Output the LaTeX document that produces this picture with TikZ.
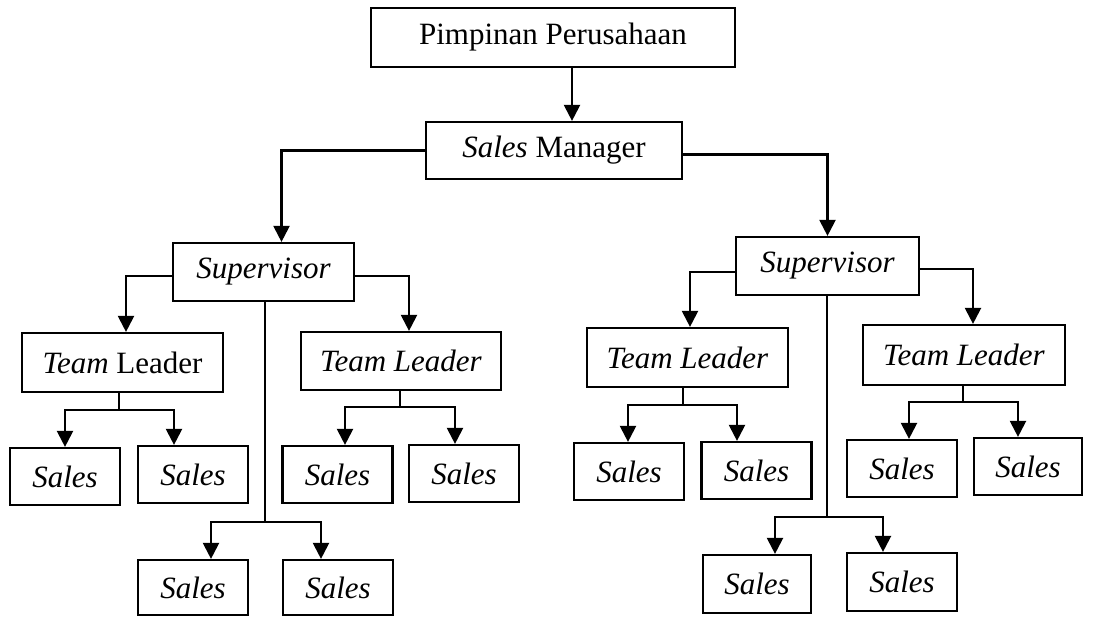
\documentclass[tikz,border=0pt]{standalone}
\usepackage{fontspec}
\setmainfont{Liberation Serif}
\usetikzlibrary{arrows.meta,calc}
\tikzset{
  box/.style={draw, line width=2.2pt, inner sep=0pt, align=center,
    font=\fontsize{31}{36}\selectfont},
  link/.style={line width=2.2pt},
  arr/.style={line width=2.2pt, -{Triangle[width=16pt,length=16pt]}}
}
\begin{document}
\begin{tikzpicture}[x=1pt,y=-1pt]
\useasboundingbox (0,0) rectangle (1119,616);

% boxes
\node[box, minimum width=364pt, minimum height=59pt] (top) at (553,37.5) {Pimpinan Perusahaan};
\node[box, minimum width=256pt, minimum height=57pt] (sm) at (554,150.5) {\textit{Sales} Manager};
\node[box, minimum width=181pt, minimum height=58pt] (supL) at (263.5,272) {\textit{Supervisor}};
\node[box, minimum width=183pt, minimum height=58pt] (supR) at (827.5,266) {\textit{Supervisor}};

\node[box, minimum width=201pt, minimum height=59pt] (tl1) at (122.5,362.5) {\textit{Team} Leader};
\node[box, minimum width=200pt, minimum height=58pt] (tl2) at (401,361) {\textit{Team Leader}};
\node[box, minimum width=201pt, minimum height=59pt] (tl3) at (687.5,357.5) {\textit{Team Leader}};
\node[box, minimum width=202pt, minimum height=60pt] (tl4) at (964,355) {\textit{Team Leader}};

\tikzset{sbox/.style={box, minimum width=110pt, minimum height=57pt}}
\node[sbox] (s1) at (65,476.5) {\textit{Sales}};
\node[sbox] (s2) at (193,474.5) {\textit{Sales}};
\node[sbox] (s3) at (337.5,474.5) {\textit{Sales}};
\node[sbox] (s4) at (464,473.5) {\textit{Sales}};
\node[sbox, minimum height=55pt] (s5) at (193,587.5) {\textit{Sales}};
\node[sbox, minimum height=55pt] (s6) at (338,587.5) {\textit{Sales}};
\node[sbox] (s7) at (629,471.5) {\textit{Sales}};
\node[sbox] (s8) at (756.5,470.5) {\textit{Sales}};
\node[sbox] (s9) at (902,468.5) {\textit{Sales}};
\node[sbox, minimum width=108pt] (s10) at (1028,466.5) {\textit{Sales}};
\node[sbox, minimum width=108pt, minimum height=58pt] (s11) at (757,584) {\textit{Sales}};
\node[sbox, minimum height=58pt] (s12) at (902,582) {\textit{Sales}};

% top levels
\coordinate (a0) at (572,0);
\draw[arr] (top.south -| a0) -- (sm.north -| a0);
\draw[arr] (sm.west) -| ($(supL.north)+(18,0)$);
\draw[arr] ([yshift=-4pt]sm.east) -| (supR.north);

% supervisor to team leaders
\draw[arr] ([yshift=-4pt]supL.west) -| ($(tl1.north)+(3.5,0)$);
\draw[arr] ([yshift=-4pt]supL.east) -| ($(tl2.north)+(8,0)$);
\draw[arr] ([yshift=-6pt]supR.west) -| ($(tl3.north)+(2.5,0)$);
\draw[arr] ([yshift=-3pt]supR.east) -| ($(tl4.north)+(9,0)$);

% team leader 1
\coordinate (j1) at (119,410);
\draw[link] (tl1.south -| j1) -- (j1);
\draw[arr] (j1) -| (s1.north);
\draw[arr] (j1) -| ($(s2.north)+(-19,0)$);
% team leader 2
\coordinate (j2) at (400,407);
\draw[link] (tl2.south -| j2) -- (j2);
\draw[arr] (j2) -| ($(s3.north)+(7.5,0)$);
\draw[arr] (j2) -| ($(s4.north)+(-9,0)$);
% left supervisor, direct sales
\coordinate (j3) at (265,522);
\draw[link] (supL.south -| j3) -- (j3);
\draw[arr] (j3) -| ($(s5.north)+(18,0)$);
\draw[arr] (j3) -| ($(s6.north)+(-17,0)$);
% team leader 3
\coordinate (j4) at (683,405);
\draw[link] (tl3.south -| j4) -- (j4);
\draw[arr] (j4) -| ($(s7.north)+(-1,0)$);
\draw[arr] (j4) -| ($(s8.north)+(-19.5,0)$);
% team leader 4
\coordinate (j5) at (963,402);
\draw[link] (tl4.south -| j5) -- (j5);
\draw[arr] (j5) -| ($(s9.north)+(7,0)$);
\draw[arr] (j5) -| ($(s10.north)+(-10,0)$);
% right supervisor, direct sales
\coordinate (j6) at (827,517);
\draw[link] (supR.south -| j6) -- (j6);
\draw[arr] (j6) -| ($(s11.north)+(18,0)$);
\draw[arr] (j6) -| ($(s12.north)+(-19,0)$);
\end{tikzpicture}
\end{document}
